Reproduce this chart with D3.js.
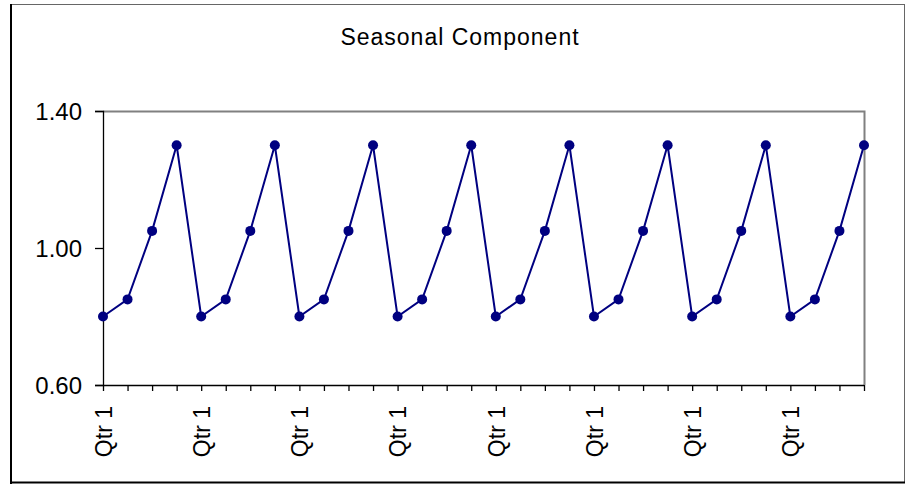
<!DOCTYPE html>
<html>
<head>
<meta charset="utf-8">
<script src="https://cdn.jsdelivr.net/npm/d3@7"></script>
<style>
  html, body { margin: 0; padding: 0; background: #fff; }
  svg { display: block; }
  text { font-family: "Liberation Sans", Arial, sans-serif; fill: #000; }
</style>
</head>
<body>
<svg id="chart" width="906" height="484"></svg>
<script>
// ---- data ----
const title = "Seasonal Component";
const quarters = ["Qtr 1", "Qtr 2", "Qtr 3", "Qtr 4"];
const years = 8;
const categories = [];
for (let y = 0; y < years; y++) quarters.forEach(q => categories.push(q));
const values = [
  0.80, 0.85, 1.05, 1.30,
  0.80, 0.85, 1.05, 1.30,
  0.80, 0.85, 1.05, 1.30,
  0.80, 0.85, 1.05, 1.30,
  0.80, 0.85, 1.05, 1.30,
  0.80, 0.85, 1.05, 1.30,
  0.80, 0.85, 1.05, 1.30,
  0.80, 0.85, 1.05, 1.30
];
const yTicks = [0.60, 1.00, 1.40];

// ---- layout ----
const svg = d3.select("#chart");
const plot = { left: 103, top: 111, right: 864, bottom: 385 };

// outer frame
svg.append("line").attr("x1", 10).attr("x2", 905).attr("y1", 4.5).attr("y2", 4.5)
  .attr("stroke", "#666").attr("stroke-width", 1);
svg.append("line").attr("x1", 904.5).attr("x2", 904.5).attr("y1", 4).attr("y2", 483)
  .attr("stroke", "#666").attr("stroke-width", 1);
svg.append("line").attr("x1", 11).attr("x2", 11).attr("y1", 4).attr("y2", 484)
  .attr("stroke", "#000").attr("stroke-width", 2);
svg.append("line").attr("x1", 10).attr("x2", 905).attr("y1", 482.5).attr("y2", 482.5)
  .attr("stroke", "#000").attr("stroke-width", 2);

// title
svg.append("text")
  .attr("x", 460).attr("y", 44.5)
  .attr("text-anchor", "middle")
  .attr("font-size", "23px")
  .style("letter-spacing", "1px")
  .text(title);

const x = d3.scalePoint()
  .domain(d3.range(categories.length))
  .range([plot.left, plot.right]);
const y = d3.scaleLinear().domain([0.60, 1.40]).range([plot.bottom, plot.top]);

// plot area top/right border (gray)
svg.append("path")
  .attr("d", `M${plot.left},${plot.top + 0.5}H${plot.right + 0.5}V${plot.bottom}`)
  .attr("fill", "none").attr("stroke", "#808080").attr("stroke-width", 2);

// y axis
const yAxis = d3.axisLeft(y).tickValues(yTicks).tickFormat(d3.format(".2f"))
  .tickSize(8).tickPadding(13);
const gy = svg.append("g").attr("transform", `translate(${plot.left},0)`).call(yAxis);
gy.select(".domain").attr("stroke", "#000").attr("stroke-width", 1.3);
gy.selectAll(".tick line").attr("stroke", "#000").attr("stroke-width", 1.3);
gy.selectAll(".tick text")
  .attr("font-family", "Liberation Sans, Arial, sans-serif")
  .attr("font-size", "24px").attr("fill", "#000").attr("dy", "0.35em");

// x axis
const xAxis = d3.axisBottom(x).tickSize(6).tickSizeOuter(0)
  .tickFormat(i => (i % 4 === 0 ? categories[i] : ""));
const gx = svg.append("g").attr("transform", `translate(0,${plot.bottom})`).call(xAxis);
gx.select(".domain").attr("stroke", "#000").attr("stroke-width", 1.3)
  .attr("d", `M${plot.left},0.5H${plot.right}`);
gx.selectAll(".tick line").attr("stroke", "#000").attr("stroke-width", 1.3);
gx.selectAll(".tick text")
  .attr("font-family", "Liberation Sans, Arial, sans-serif")
  .attr("font-size", "23px").attr("fill", "#000")
  .attr("text-anchor", "end")
  .attr("transform", "rotate(-90)")
  .attr("x", -21).attr("y", 0).attr("dy", "0.36em");

// line
const line = d3.line().x((d, i) => x(i)).y(d => y(d));
svg.append("path").datum(values)
  .attr("d", line)
  .attr("fill", "none").attr("stroke", "#000080").attr("stroke-width", 2);

// markers
svg.append("g").selectAll("circle").data(values).join("circle")
  .attr("cx", (d, i) => x(i)).attr("cy", d => y(d)).attr("r", 5)
  .attr("fill", "#000080");
</script>
</body>
</html>
